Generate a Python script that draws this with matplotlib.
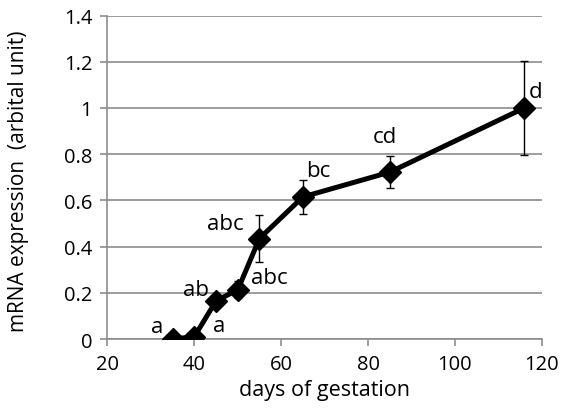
import matplotlib.pyplot as plt
import matplotlib

matplotlib.rcParams['font.family'] = ['Open Sans', 'DejaVu Sans']

days = [35, 40, 45, 50, 55, 65, 85, 116]
expr = [0.0, 0.01, 0.165, 0.213, 0.435, 0.615, 0.722, 1.0]
err = [0.0, 0.0, 0.02, 0.037, 0.1, 0.075, 0.07, 0.205]
letters = ["a", "a", "ab", "abc", "abc", "bc", "cd", "d"]
# label offsets in pixels from each point
offs = [(-15, 13), (25, 11), (-20, 11), (32, 12), (-34, 15), (15, 26), (-5, 36), (11, 16)]

fig = plt.figure(figsize=(5.61, 4.10), dpi=100)
ax = fig.add_axes([0.1916, 0.1707, 0.774, 0.789])

gray = "#8c8c8c"
ax.errorbar(days, expr, yerr=err, fmt="none", ecolor="black", elinewidth=1,
            capsize=3, capthick=1, zorder=3)
ax.plot(days, expr, color="black", lw=3.6, marker="D", markersize=11.5, zorder=4)

for x, y, t, (dx, dy) in zip(days, expr, letters, offs):
    ax.annotate(t, (x, y), xytext=(dx, dy), textcoords="offset pixels",
                ha="center", va="center", fontsize=16)

ax.set_xlim(20, 120)
ax.set_ylim(0, 1.4)
ax.set_xticks(range(20, 121, 20))
ax.set_yticks([0, 0.2, 0.4, 0.6, 0.8, 1, 1.2, 1.4])
ax.set_yticklabels(["0", "0.2", "0.4", "0.6", "0.8", "1", "1.2", "1.4"])
ax.yaxis.grid(True, color=gray, lw=1.2)
ax.set_axisbelow(True)
for s in ["top", "right"]:
    ax.spines[s].set_visible(False)
for s in ["left", "bottom"]:
    ax.spines[s].set_color(gray)
    ax.spines[s].set_linewidth(1.2)
ax.tick_params(colors=gray, labelcolor="black", labelsize=14.5, length=5, width=1.2, pad=6)
ax.set_xlabel("days of gestation", fontsize=15.5)
ax.set_ylabel("mRNA expression  (arbital unit)", fontsize=15)
ax.xaxis.set_label_coords(0.5, -0.125)
ax.yaxis.set_label_coords(-0.18, 0.49)

fig.savefig("out.png", dpi=100)
